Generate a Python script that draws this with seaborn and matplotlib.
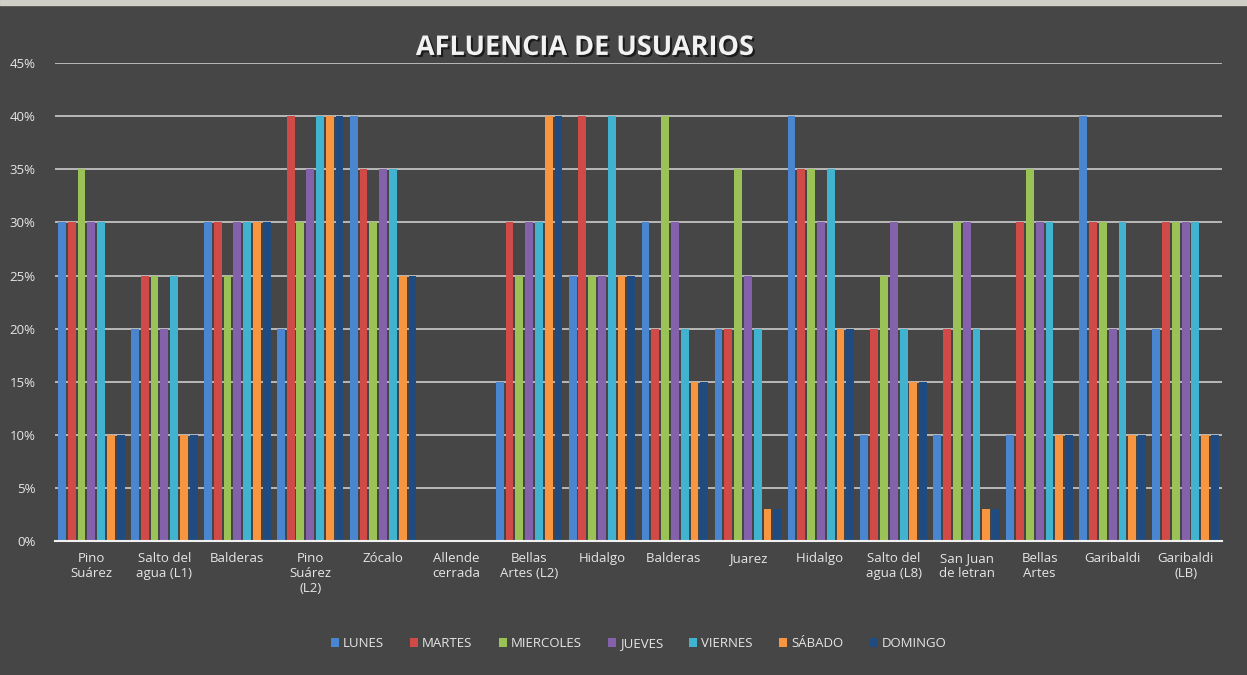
import pandas as pd
import seaborn as sns
import matplotlib.pyplot as plt
import matplotlib.patheffects as pe
from matplotlib.ticker import PercentFormatter

estaciones = ["Pino\nSuárez", "Salto del\nagua (L1)", "Balderas", "Pino\nSuárez\n(L2)", "Zócalo",
              "Allende\ncerrada", "Bellas\nArtes (L2)", "Hidalgo", "Balderas ", "Juarez", "Hidalgo ",
              "Salto del\nagua (L8)", "San Juan\nde letran", "Bellas\nArtes", "Garibaldi", "Garibaldi\n(LB)"]
dias = ["LUNES", "MARTES", "MIERCOLES", "JUEVES", "VIERNES", "SÁBADO", "DOMINGO"]

lunes = [30, 20, 30, 20, 40, 0, 15, 25, 30, 20, 40, 10, 10, 10, 40, 20]
martes = [30, 25, 30, 40, 35, 0, 30, 40, 20, 20, 35, 20, 20, 30, 30, 30]
miercoles = [35, 25, 25, 30, 30, 0, 25, 25, 40, 35, 35, 25, 30, 35, 30, 30]
jueves = [30, 20, 30, 35, 35, 0, 30, 25, 30, 25, 30, 30, 30, 30, 20, 30]
viernes = [30, 25, 30, 40, 35, 0, 30, 40, 20, 20, 35, 20, 20, 30, 30, 30]
sabado = [10, 10, 30, 40, 25, 0, 40, 25, 15, 3, 20, 15, 3, 10, 10, 10]
domingo = [10, 10, 30, 40, 25, 0, 40, 25, 15, 3, 20, 15, 3, 10, 10, 10]

colores = ["#4a86d0", "#d04a47", "#9bc256", "#8462ab", "#41b3d0", "#f79540", "#1f4b80"]

series = [lunes, martes, miercoles, jueves, viernes, sabado, domingo]
rows = []
for dia, vals in zip(dias, series):
    for est, v in zip(estaciones, vals):
        rows.append({"estacion": est, "dia": dia, "valor": v})
df = pd.DataFrame(rows)

sns.set_style("dark")
plt.rcParams['font.family'] = ['Open Sans', 'DejaVu Sans']
txt = "#e6e6e6"

fig = plt.figure(figsize=(12.47, 6.75), dpi=100, facecolor="#464646")
ax = fig.add_axes([0.044, 0.1985, 0.936, 0.708])
ax.set_facecolor("none")

sns.barplot(data=df, x="estacion", y="valor", hue="dia", palette=colores,
            width=0.94, gap=0.2, ax=ax, legend=True, saturation=1, linewidth=0, edgecolor="none")

ax.set_ylim(0, 45)
ax.set_yticks(range(0, 46, 5))
ax.yaxis.set_major_formatter(PercentFormatter(decimals=0))
ax.grid(axis="y", color="#d8d8d8", linewidth=1.1)
ax.set_axisbelow(True)
ax.set_xlim(-0.5, len(estaciones) - 0.5)
for s in ["left", "right", "top"]:
    ax.spines[s].set_visible(False)
ax.spines["bottom"].set_color("#f0f0f0")
ax.spines["bottom"].set_linewidth(1.5)
ax.tick_params(axis="both", length=0, colors=txt, labelsize=9.5)
ax.tick_params(axis="x", pad=8)
ax.tick_params(axis="y", pad=14)
ax.set_xlabel("")
ax.set_ylabel("")

fig.text(0.469, 0.929, "AFLUENCIA DE USUARIOS", color="#f2f2f2", fontsize=19.5, fontweight="bold",
         ha="center", va="center",
         path_effects=[pe.withSimplePatchShadow(offset=(1.5, -1.5), shadow_rgbFace="#111111", alpha=0.8)])

handles, labels = ax.get_legend_handles_labels()
leg = ax.legend(handles, labels, loc="center", bbox_to_anchor=(0.5, -0.215), ncol=7, frameon=False,
                fontsize=9.5, handlelength=0.6, handleheight=0.6, handletextpad=0.3, columnspacing=2.0)
for t in leg.get_texts():
    t.set_color(txt)

fig.add_artist(plt.Rectangle((0, 0.992), 1, 0.008, transform=fig.transFigure, color="#cfcfc8", zorder=0))

fig.savefig("out.png", dpi=100, facecolor=fig.get_facecolor())
